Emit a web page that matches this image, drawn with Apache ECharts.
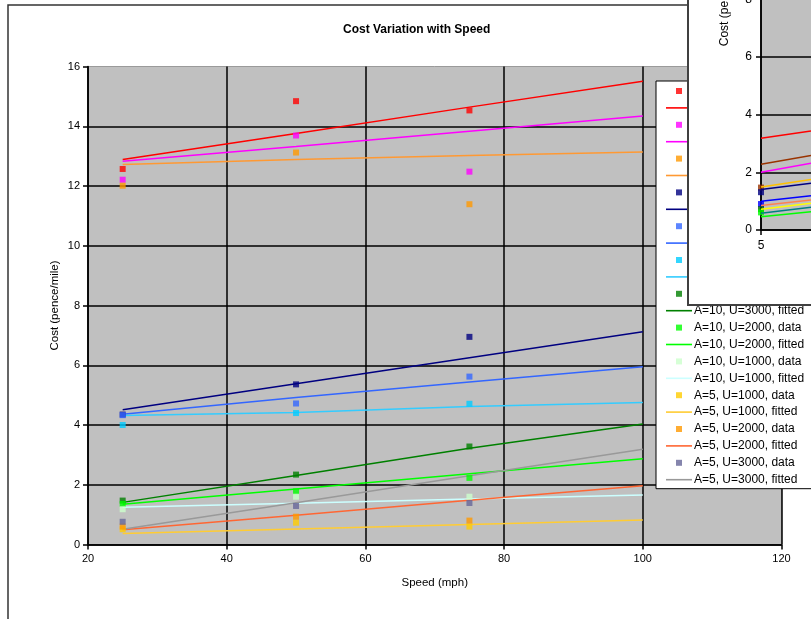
<!DOCTYPE html>
<html>
<head>
<meta charset="utf-8">
<script src="https://cdn.jsdelivr.net/npm/echarts@6/dist/echarts.min.js"></script>
<style>
  html, body { margin: 0; padding: 0; background: #fff; overflow: hidden; }
  #chart { width: 811px; height: 619px; }
</style>
</head>
<body>
<div id="chart"></div>
<script>
// Measured speeds (mph) and the speeds at which the fitted curves are evaluated
const speedData = [25, 50, 75];
const speedFit = [25, 50, 75, 100];

// Cost in pence/mile, one pair (measured, fitted) per aircraft size A and utilisation U
const a40u3000Data = [12.57, 14.84, 14.53];
const a40u3000Fit  = [12.89, 13.76, 14.64, 15.51];
const a40u2000Data = [12.21, 13.69, 12.48];
const a40u2000Fit  = [12.83, 13.32, 13.83, 14.34];
const a40u1000Data = [12.01, 13.12, 11.39];
const a40u1000Fit  = [12.72, 12.89, 13.02, 13.14];
const a20u3000Data = [4.35, 5.36, 6.95];
const a20u3000Fit  = [4.51, 5.38, 6.25, 7.12];
const a20u2000Data = [4.33, 4.72, 5.62];
const a20u2000Fit  = [4.36, 4.92, 5.44, 5.95];
const a20u1000Data = [4.00, 4.40, 4.71];
const a20u1000Fit  = [4.32, 4.42, 4.62, 4.75];
const a10u3000Data = [1.47, 2.34, 3.28];
const a10u3000Fit  = [1.41, 2.31, 3.22, 4.03];
const a10u2000Data = [1.36, 1.78, 2.23];
const a10u2000Fit  = [1.35, 1.86, 2.37, 2.87];
const a10u1000Data = [1.18, 1.60, 1.60];
const a10u1000Fit  = [1.25, 1.38, 1.52, 1.66];
const a5u1000Data  = [0.51, 0.73, 0.60];
const a5u1000Fit   = [0.37, 0.52, 0.67, 0.82];
const a5u2000Data  = [0.60, 0.93, 0.80];
const a5u2000Fit   = [0.49, 0.98, 1.48, 1.97];
const a5u3000Data  = [0.76, 1.29, 1.39];
const a5u3000Fit   = [0.51, 1.40, 2.30, 3.19];

const groupNames = [
  'A=40, U=3000', 'A=40, U=2000', 'A=40, U=1000',
  'A=20, U=3000', 'A=20, U=2000', 'A=20, U=1000',
  'A=10, U=3000', 'A=10, U=2000', 'A=10, U=1000',
  'A=5, U=1000', 'A=5, U=2000', 'A=5, U=3000'
];
const groupData = [a40u3000Data, a40u2000Data, a40u1000Data, a20u3000Data, a20u2000Data, a20u1000Data,
                   a10u3000Data, a10u2000Data, a10u1000Data, a5u1000Data, a5u2000Data, a5u3000Data];
const groupFit = [a40u3000Fit, a40u2000Fit, a40u1000Fit, a20u3000Fit, a20u2000Fit, a20u1000Fit,
                  a10u3000Fit, a10u2000Fit, a10u1000Fit, a5u1000Fit, a5u2000Fit, a5u3000Fit];

// Marker and line colours for each group
const markerColors = ['#FF0000', '#FF00FF', '#FF9900', '#000080', '#3366FF', '#00CCFF',
                      '#008000', '#00FF00', '#CCFFCC', '#FFCC00', '#FF9900', '#666699'];
const lineColors   = ['#FF0000', '#FF00FF', '#FF9933', '#000080', '#3366FF', '#33CCFF',
                       '#008000', '#00FF00', '#CCFFFF', '#FFCC33', '#FF6633', '#999999'];

// Second chart window: cost at the 5 and 10 end of its own speed range
const insetSpeeds = [5, 10];
const insetLineRed     = [3.18, 3.43];
const insetLineBrown   = [2.28, 2.58];
const insetLineMagenta = [2.00, 2.31];
const insetLineGold    = [1.49, 1.75];
const insetLineNavy    = [1.40, 1.62];
const insetLineBlue    = [1.00, 1.19];
const insetLineSalmon  = [0.85, 1.04];
const insetLineYellow  = [0.72, 0.93];
const insetLineTeal    = [0.58, 0.79];
const insetLineGreen   = [0.46, 0.63];
const insetLines = [insetLineRed, insetLineBrown, insetLineMagenta, insetLineGold, insetLineNavy,
                    insetLineBlue, insetLineSalmon, insetLineYellow, insetLineTeal, insetLineGreen];
const insetLineColors = ['#FF0000', '#993300', '#FF00FF', '#FFC000', '#000080',
                         '#0000FF', '#FF8050', '#FFFF00', '#008080', '#00FF00'];
const insetMarkerValues = [1.47, 1.31, 0.90, 0.72, 0.61];
const insetMarkerColors = ['#993300', '#000080', '#0000FF', '#006400', '#00FF00'];

const FONT = "'Liberation Sans', Arial, sans-serif";
const SQUARE_ICON = 'path://M0,0H10V10H0Z';
const LINE_ICON = 'path://M0,0H26V1.6H0Z';

const series = [];
const legendData = [];
groupNames.forEach(function (g, i) {
  series.push({
    name: g + ', data',
    type: 'scatter',
    symbol: 'rect',
    symbolSize: 6,
    itemStyle: { color: markerColors[i] },
    data: speedData.map(function (s, k) { return [s, groupData[i][k]]; }),
    z: 3
  });
  series.push({
    name: g + ', fitted',
    type: 'line',
    symbol: 'none',
    lineStyle: { color: lineColors[i], width: 1.5 },
    itemStyle: { color: lineColors[i] },
    data: speedFit.map(function (s, k) { return [s, groupFit[i][k]]; }),
    z: 2
  });
  legendData.push({ name: g + ', data', icon: SQUARE_ICON });
  legendData.push({ name: g + ', fitted', icon: LINE_ICON });
});

insetLines.forEach(function (vals, i) {
  series.push({
    name: 'inset line ' + (i + 1),
    type: 'line',
    xAxisIndex: 1, yAxisIndex: 1,
    zlevel: 1,
    symbol: 'none',
    lineStyle: { color: insetLineColors[i], width: 1.5 },
    data: insetSpeeds.map(function (s, k) { return [s, vals[k]]; })
  });
});
insetMarkerValues.forEach(function (v, i) {
  series.push({
    name: 'inset point ' + (i + 1),
    type: 'scatter',
    xAxisIndex: 1, yAxisIndex: 1,
    zlevel: 1,
    symbol: 'rect',
    symbolSize: 6,
    itemStyle: { color: insetMarkerColors[i] },
    data: [[insetSpeeds[0], v]]
  });
});

const axisText = { color: '#000', fontSize: 11, fontFamily: FONT };

const option = {
  animation: false,
  backgroundColor: '#fff',
  title: {
    text: 'Cost Variation with Speed',
    left: 338,
    top: 19,
    textStyle: { color: '#000', fontSize: 12, fontWeight: 'bold', fontFamily: FONT }
  },
  legend: {
    orient: 'vertical',
    left: 656,
    top: 81,
    data: legendData,
    selectedMode: false,
    itemWidth: 26,
    itemHeight: 6,
    itemGap: 4.9,
    padding: [4, 12, 3, 10],
    backgroundColor: '#fff',
    borderColor: '#000',
    borderWidth: 1,
    textStyle: { color: '#000', fontSize: 12, fontFamily: FONT, padding: [0, 0, 0, -3] }
  },
  grid: [
    {
      left: 88, top: 66.5, width: 693.5, height: 478,
      outerBoundsMode: 'none', containLabel: false,
      show: true, backgroundColor: '#C0C0C0', borderColor: '#9a9a9a', borderWidth: 1
    },
    {
      left: 761, top: -231.6, width: 500, height: 461.6,
      outerBoundsMode: 'none', containLabel: false,
      show: true, backgroundColor: '#C0C0C0', borderColor: '#9a9a9a', borderWidth: 1,
      zlevel: 1, z: 1
    }
  ],
  xAxis: [
    {
      type: 'value', gridIndex: 0, min: 20, max: 120, interval: 20,
      name: 'Speed (mph)', nameLocation: 'middle', nameGap: 32,
      nameTextStyle: { color: '#000', fontSize: 11.5, fontFamily: FONT },
      axisLine: { show: true, lineStyle: { color: '#000', width: 1.5 } },
      axisTick: { show: true, length: 5, lineStyle: { color: '#000', width: 1.5 } },
      axisLabel: Object.assign({ margin: 9 }, axisText),
      splitLine: { show: true, lineStyle: { color: '#000', width: 1.5 } }
    },
    {
      type: 'value', gridIndex: 1, min: 5, max: 55, interval: 20,
      zlevel: 1, z: 2,
      axisLine: { show: true, lineStyle: { color: '#000', width: 1.5 } },
      axisTick: { show: true, length: 5, lineStyle: { color: '#000', width: 1.5 } },
      axisLabel: Object.assign({ margin: 10 }, axisText, { fontSize: 12 }),
      splitLine: { show: true, lineStyle: { color: '#000', width: 1.5 } }
    }
  ],
  yAxis: [
    {
      type: 'value', gridIndex: 0, min: 0, max: 16, interval: 2,
      name: 'Cost (pence/mile)', nameLocation: 'middle', nameGap: 27, nameMoveOverlap: false,
      nameTextStyle: { color: '#000', fontSize: 11.5, fontFamily: FONT },
      axisLine: { show: true, lineStyle: { color: '#000', width: 1.5 } },
      axisTick: { show: true, length: 5, lineStyle: { color: '#000', width: 1.5 } },
      axisLabel: Object.assign({ margin: 8 }, axisText),
      splitLine: { show: true, showMaxLine: false, lineStyle: { color: '#000', width: 1.5 } }
    },
    {
      type: 'value', gridIndex: 1, min: 0, max: 16, interval: 2,
      zlevel: 1, z: 2,
      name: 'Cost (pence/mile)', nameLocation: 'middle', nameGap: 30, nameMoveOverlap: false,
      nameTextStyle: { color: '#000', fontSize: 12, fontFamily: FONT },
      axisLine: { show: true, lineStyle: { color: '#000', width: 1.5 } },
      axisTick: { show: true, length: 5, lineStyle: { color: '#000', width: 1.5 } },
      axisLabel: Object.assign({ margin: 9 }, axisText, { fontSize: 12 }),
      splitLine: { show: true, showMaxLine: false, lineStyle: { color: '#000', width: 1.5 } }
    }
  ],
  graphic: [
    {
      type: 'polyline', zlevel: 0, z: 10, silent: true,
      shape: { points: [[8, 640], [8, 5], [700, 5]] },
      style: { fill: null, stroke: '#333', lineWidth: 1.5 }
    },
    {
      type: 'rect', zlevel: 1, z: -5, silent: true,
      shape: { x: 688, y: -20, width: 200, height: 325 },
      style: { fill: '#fff', stroke: '#404040', lineWidth: 2 }
    }
  ],
  series: series
};

const chart = echarts.init(document.getElementById('chart'), null, { renderer: 'canvas' });
chart.setOption(option);
</script>
</body>
</html>
